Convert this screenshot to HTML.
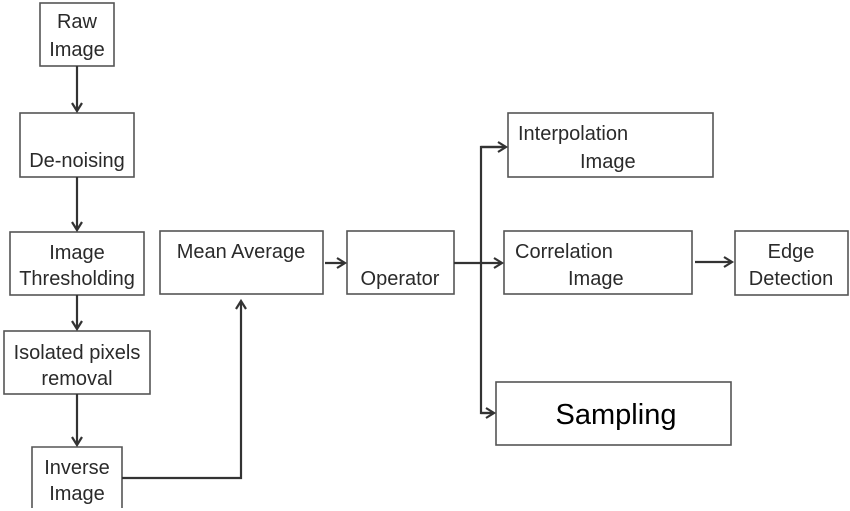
<!DOCTYPE html>
<html><head><meta charset="utf-8"><style>
html,body{margin:0;padding:0;background:#fff;}
svg{display:block;}
text{font-family:"Liberation Sans",Arial,sans-serif;font-size:20px;fill:#2a2a2a;}
</style></head><body>
<svg width="850" height="511" viewBox="0 0 850 511" xmlns="http://www.w3.org/2000/svg">
<defs>
<marker id="a" markerWidth="12" markerHeight="12" refX="9" refY="6" orient="auto" markerUnits="userSpaceOnUse">
<path d="M1,1 L9,6 L1,11" fill="none" stroke="#333" stroke-width="2.2"/>
</marker>
</defs>
<g fill="none" stroke="#555" stroke-width="1.6">
<rect x="40" y="3" width="74" height="63"/>
<rect x="20" y="113" width="114" height="64"/>
<rect x="10" y="232" width="134" height="63"/>
<rect x="160" y="231" width="163" height="63"/>
<rect x="4" y="331" width="146" height="63"/>
<path d="M32,508 V447 H122 V508"/>
<rect x="347" y="231" width="107" height="63"/>
<rect x="508" y="113" width="205" height="64"/>
<rect x="504" y="231" width="188" height="63"/>
<rect x="735" y="231" width="113" height="64"/>
<rect x="496" y="382" width="235" height="63"/>
</g>
<g fill="none" stroke="#333" stroke-width="2.2">
<line x1="77" y1="66" x2="77" y2="111" marker-end="url(#a)"/>
<line x1="77" y1="177" x2="77" y2="230" marker-end="url(#a)"/>
<line x1="77" y1="295" x2="77" y2="329" marker-end="url(#a)"/>
<line x1="77" y1="394" x2="77" y2="445" marker-end="url(#a)"/>
<path d="M122,478 H241 V301" marker-end="url(#a)"/>
<line x1="325" y1="263" x2="345" y2="263" marker-end="url(#a)"/>
<line x1="454" y1="263" x2="502" y2="263" marker-end="url(#a)"/>
<path d="M506,147 H481 V413 H494" />
<line x1="481" y1="147" x2="506" y2="147" marker-end="url(#a)"/>
<line x1="481" y1="413" x2="494" y2="413" marker-end="url(#a)"/>
<line x1="695" y1="262" x2="732" y2="262" marker-end="url(#a)"/>
</g>
<text x="77" y="28" text-anchor="middle">Raw</text>
<text x="77" y="56" text-anchor="middle">Image</text>
<text x="77" y="167" text-anchor="middle">De-noising</text>
<text x="77" y="259" text-anchor="middle">Image</text>
<text x="77" y="285" text-anchor="middle">Thresholding</text>
<text x="241" y="258" text-anchor="middle">Mean Average</text>
<text x="77" y="359" text-anchor="middle">Isolated pixels</text>
<text x="77" y="385" text-anchor="middle">removal</text>
<text x="77" y="474" text-anchor="middle">Inverse</text>
<text x="77" y="500" text-anchor="middle">Image</text>
<text x="400" y="285" text-anchor="middle">Operator</text>
<text x="518" y="140">Interpolation</text>
<text x="580" y="168">Image</text>
<text x="515" y="258">Correlation</text>
<text x="568" y="285">Image</text>
<text x="791" y="258" text-anchor="middle">Edge</text>
<text x="791" y="285" text-anchor="middle">Detection</text>
<text x="616" y="424" text-anchor="middle" style="font-family:'Liberation Sans','DejaVu Sans',sans-serif;font-size:29px;fill:#000;">Sampling</text>
</svg>
</body></html>
